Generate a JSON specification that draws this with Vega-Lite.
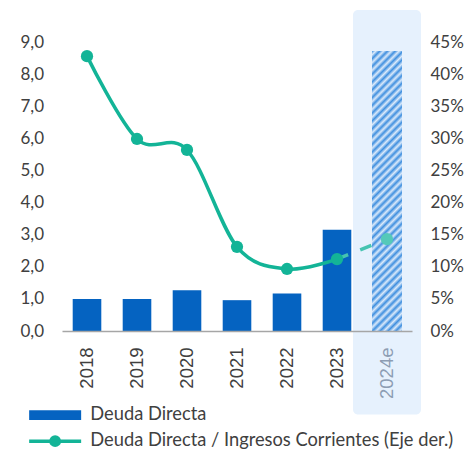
{
  "$schema": "https://vega.github.io/schema/vega-lite/v6.json",
  "width": 350,
  "height": 289,
  "autosize": {"type": "none"},
  "padding": {"left": 62, "top": 42, "right": 58, "bottom": 119},
  "background": "white",
  "config": {
    "font": "Lato",
    "view": {"stroke": null},
    "axis": {"labelFont": "Lato", "labelFontSize": 17, "labelColor": "#404040", "grid": false, "ticks": false, "title": null, "labelOverlap": false, "labelBound": false, "labelFlush": false}
  },
  "datasets": {
    "main": [
      {"year": "2018", "deuda": 1.0, "ratio": 0.428},
      {"year": "2019", "deuda": 1.0, "ratio": 0.299},
      {"year": "2020", "deuda": 1.27, "ratio": 0.282},
      {"year": "2021", "deuda": 0.96, "ratio": 0.131},
      {"year": "2022", "deuda": 1.17, "ratio": 0.0966},
      {"year": "2023", "deuda": 3.15, "ratio": 0.112},
      {"year": "2024e", "deuda": 8.72, "ratio": 0.143}
    ]
  },
  "data": {"name": "main"},
  "encoding": {
    "x": {
      "field": "year", "type": "nominal",
      "scale": {"domain": ["2018", "2019", "2020", "2021", "2022", "2023", "2024e"], "paddingInner": 0, "paddingOuter": 0},
      "axis": {
        "labelAngle": -90, "labelPadding": 16, "domainColor": "#a6a6a6", "domainWidth": 1.5, "ticks": false,
        "labelFont": "Liberation Sans", "labelFontSize": 18.5, "title": null, "zindex": 1,
        "labelColor": {"expr": "datum.value == '2024e' ? '#8d9db3' : '#404040'"}
      }
    }
  },
  "layer": [
    {
      "data": {"values": [{"k": 1}]},
      "mark": {"type": "bar", "width": 68, "cornerRadius": 5, "fill": "#e6f1fd"},
      "encoding": {
        "x": {"datum": "2024e", "type": "nominal"},
        "y": {"datum": 10.0, "type": "quantitative", "scale": {"domain": [0, 9], "nice": false}, "axis": null},
        "y2": {"datum": -2.6}
      }
    },
    {
      "layer": [
        {
          "transform": [{"filter": "datum.year != '2024e'"}],
          "mark": {"type": "bar", "width": 28.6},
          "encoding": {
            "y": {
              "field": "deuda", "type": "quantitative",
              "scale": {"domain": [0, 9], "nice": false},
              "axis": {"orient": "left", "domain": false, "ticks": false, "labelPadding": 18.5, "tickCount": 9, "labelExpr": "replace(format(datum.value, '.1f'), '.', ',')", "title": null, "labelOverlap": false}
            },
            "color": {
              "datum": "Deuda Directa", "type": "nominal",
              "scale": {"domain": ["Deuda Directa", "Deuda Directa / Ingresos Corrientes (Eje der.)"], "range": ["#0563c1", "#13b497"]},
              "legend": {
                "orient": "none", "legendX": -16, "legendY": 364, "title": null, "direction": "vertical",
                "symbolSize": 2704, "labelFontSize": 18.3, "labelFont": "Lato", "labelColor": "#404040", "labelOffset": 26,
                "labelLimit": 0, "rowPadding": 5,
                "encode": {
                  "symbols": {
                    "update": {
                      "shape": {"signal": "datum.index == 0 ? 'M-1,-0.19H1V0.19H-1Z' : 'M-1,0H1M-0.16,0A0.16,0.16,0,1,1,0.16,0A0.16,0.16,0,1,1,-0.16,0Z'"},
                      "fill": {"signal": "datum.index == 0 ? '#0563c1' : '#13b497'"},
                      "stroke": {"signal": "datum.index == 0 ? 'transparent' : '#13b497'"},
                      "strokeWidth": {"signal": "datum.index == 0 ? 0 : 3.5"},
                      "opacity": {"value": 1}
                    }
                  }
                }
              }
            }
          }
        },
        {
          "transform": [{"filter": "datum.year == '2024e'"}],
          "mark": {
            "type": "bar", "width": 30,
            "fill": {
              "gradient": "linear", "x1": 0, "y1": 0, "x2": 0.118, "y2": 1.1,
              "stops": [
                {"offset": 0, "color": "#3f8fdf"}, {"offset": 0.0125, "color": "#dbeafb"},
                {"offset": 0.025, "color": "#3f8fdf"}, {"offset": 0.0375, "color": "#dbeafb"},
                {"offset": 0.05, "color": "#3f8fdf"}, {"offset": 0.0625, "color": "#dbeafb"},
                {"offset": 0.075, "color": "#3f8fdf"}, {"offset": 0.0875, "color": "#dbeafb"},
                {"offset": 0.1, "color": "#3f8fdf"}, {"offset": 0.1125, "color": "#dbeafb"},
                {"offset": 0.125, "color": "#3f8fdf"}, {"offset": 0.1375, "color": "#dbeafb"},
                {"offset": 0.15, "color": "#3f8fdf"}, {"offset": 0.1625, "color": "#dbeafb"},
                {"offset": 0.175, "color": "#3f8fdf"}, {"offset": 0.1875, "color": "#dbeafb"},
                {"offset": 0.2, "color": "#3f8fdf"}, {"offset": 0.2125, "color": "#dbeafb"},
                {"offset": 0.225, "color": "#3f8fdf"}, {"offset": 0.2375, "color": "#dbeafb"},
                {"offset": 0.25, "color": "#3f8fdf"}, {"offset": 0.2625, "color": "#dbeafb"},
                {"offset": 0.275, "color": "#3f8fdf"}, {"offset": 0.2875, "color": "#dbeafb"},
                {"offset": 0.3, "color": "#3f8fdf"}, {"offset": 0.3125, "color": "#dbeafb"},
                {"offset": 0.325, "color": "#3f8fdf"}, {"offset": 0.3375, "color": "#dbeafb"},
                {"offset": 0.35, "color": "#3f8fdf"}, {"offset": 0.3625, "color": "#dbeafb"},
                {"offset": 0.375, "color": "#3f8fdf"}, {"offset": 0.3875, "color": "#dbeafb"},
                {"offset": 0.4, "color": "#3f8fdf"}, {"offset": 0.4125, "color": "#dbeafb"},
                {"offset": 0.425, "color": "#3f8fdf"}, {"offset": 0.4375, "color": "#dbeafb"},
                {"offset": 0.45, "color": "#3f8fdf"}, {"offset": 0.4625, "color": "#dbeafb"},
                {"offset": 0.475, "color": "#3f8fdf"}, {"offset": 0.4875, "color": "#dbeafb"},
                {"offset": 0.5, "color": "#3f8fdf"}, {"offset": 0.5125, "color": "#dbeafb"},
                {"offset": 0.525, "color": "#3f8fdf"}, {"offset": 0.5375, "color": "#dbeafb"},
                {"offset": 0.55, "color": "#3f8fdf"}, {"offset": 0.5625, "color": "#dbeafb"},
                {"offset": 0.575, "color": "#3f8fdf"}, {"offset": 0.5875, "color": "#dbeafb"},
                {"offset": 0.6, "color": "#3f8fdf"}, {"offset": 0.6125, "color": "#dbeafb"},
                {"offset": 0.625, "color": "#3f8fdf"}, {"offset": 0.6375, "color": "#dbeafb"},
                {"offset": 0.65, "color": "#3f8fdf"}, {"offset": 0.6625, "color": "#dbeafb"},
                {"offset": 0.675, "color": "#3f8fdf"}, {"offset": 0.6875, "color": "#dbeafb"},
                {"offset": 0.7, "color": "#3f8fdf"}, {"offset": 0.7125, "color": "#dbeafb"},
                {"offset": 0.725, "color": "#3f8fdf"}, {"offset": 0.7375, "color": "#dbeafb"},
                {"offset": 0.75, "color": "#3f8fdf"}, {"offset": 0.7625, "color": "#dbeafb"},
                {"offset": 0.775, "color": "#3f8fdf"}, {"offset": 0.7875, "color": "#dbeafb"},
                {"offset": 0.8, "color": "#3f8fdf"}, {"offset": 0.8125, "color": "#dbeafb"},
                {"offset": 0.825, "color": "#3f8fdf"}, {"offset": 0.8375, "color": "#dbeafb"},
                {"offset": 0.85, "color": "#3f8fdf"}, {"offset": 0.8625, "color": "#dbeafb"},
                {"offset": 0.875, "color": "#3f8fdf"}, {"offset": 0.8875, "color": "#dbeafb"},
                {"offset": 0.9, "color": "#3f8fdf"}, {"offset": 0.9125, "color": "#dbeafb"},
                {"offset": 0.925, "color": "#3f8fdf"}, {"offset": 0.9375, "color": "#dbeafb"},
                {"offset": 0.95, "color": "#3f8fdf"}, {"offset": 0.9625, "color": "#dbeafb"},
                {"offset": 0.975, "color": "#3f8fdf"}, {"offset": 0.9875, "color": "#dbeafb"},
                {"offset": 1, "color": "#3f8fdf"}
              ]
            }
          },
          "encoding": {
            "y": {"field": "deuda", "type": "quantitative"}
          }
        }
      ]
    },
    {
      "layer": [
        {
          "transform": [{"filter": "datum.year == '2023' || datum.year == '2024e'"}],
          "mark": {"type": "line", "strokeDash": [12, 13], "strokeWidth": 3.5, "color": "#46c4b1"},
          "encoding": {
            "y": {
              "field": "ratio", "type": "quantitative",
              "scale": {"domain": [0, 0.45], "nice": false},
              "axis": {"orient": "right", "domain": false, "ticks": false, "labelPadding": 18, "tickCount": 9, "format": ".0%", "title": null, "labelOverlap": false}
            }
          }
        },
        {
          "transform": [{"filter": "datum.year != '2024e'"}],
          "mark": {"type": "line", "interpolate": "cardinal", "strokeWidth": 3.5},
          "encoding": {
            "y": {"field": "ratio", "type": "quantitative"},
            "color": {"datum": "Deuda Directa / Ingresos Corrientes (Eje der.)", "type": "nominal"}
          }
        },
        {
          "transform": [{"filter": "datum.year != '2024e'"}],
          "mark": {"type": "point", "filled": true, "size": 150, "opacity": 1, "shape": "circle"},
          "encoding": {
            "y": {"field": "ratio", "type": "quantitative"},
            "color": {"datum": "Deuda Directa / Ingresos Corrientes (Eje der.)", "type": "nominal"}
          }
        },
        {
          "transform": [{"filter": "datum.year == '2024e'"}],
          "mark": {"type": "point", "filled": true, "size": 150, "opacity": 1, "shape": "circle", "color": "#55c9b9"},
          "encoding": {
            "y": {"field": "ratio", "type": "quantitative"}
          }
        }
      ]
    }
  ],
  "resolve": {"scale": {"y": "independent"}, "axis": {"y": "independent"}}
}
